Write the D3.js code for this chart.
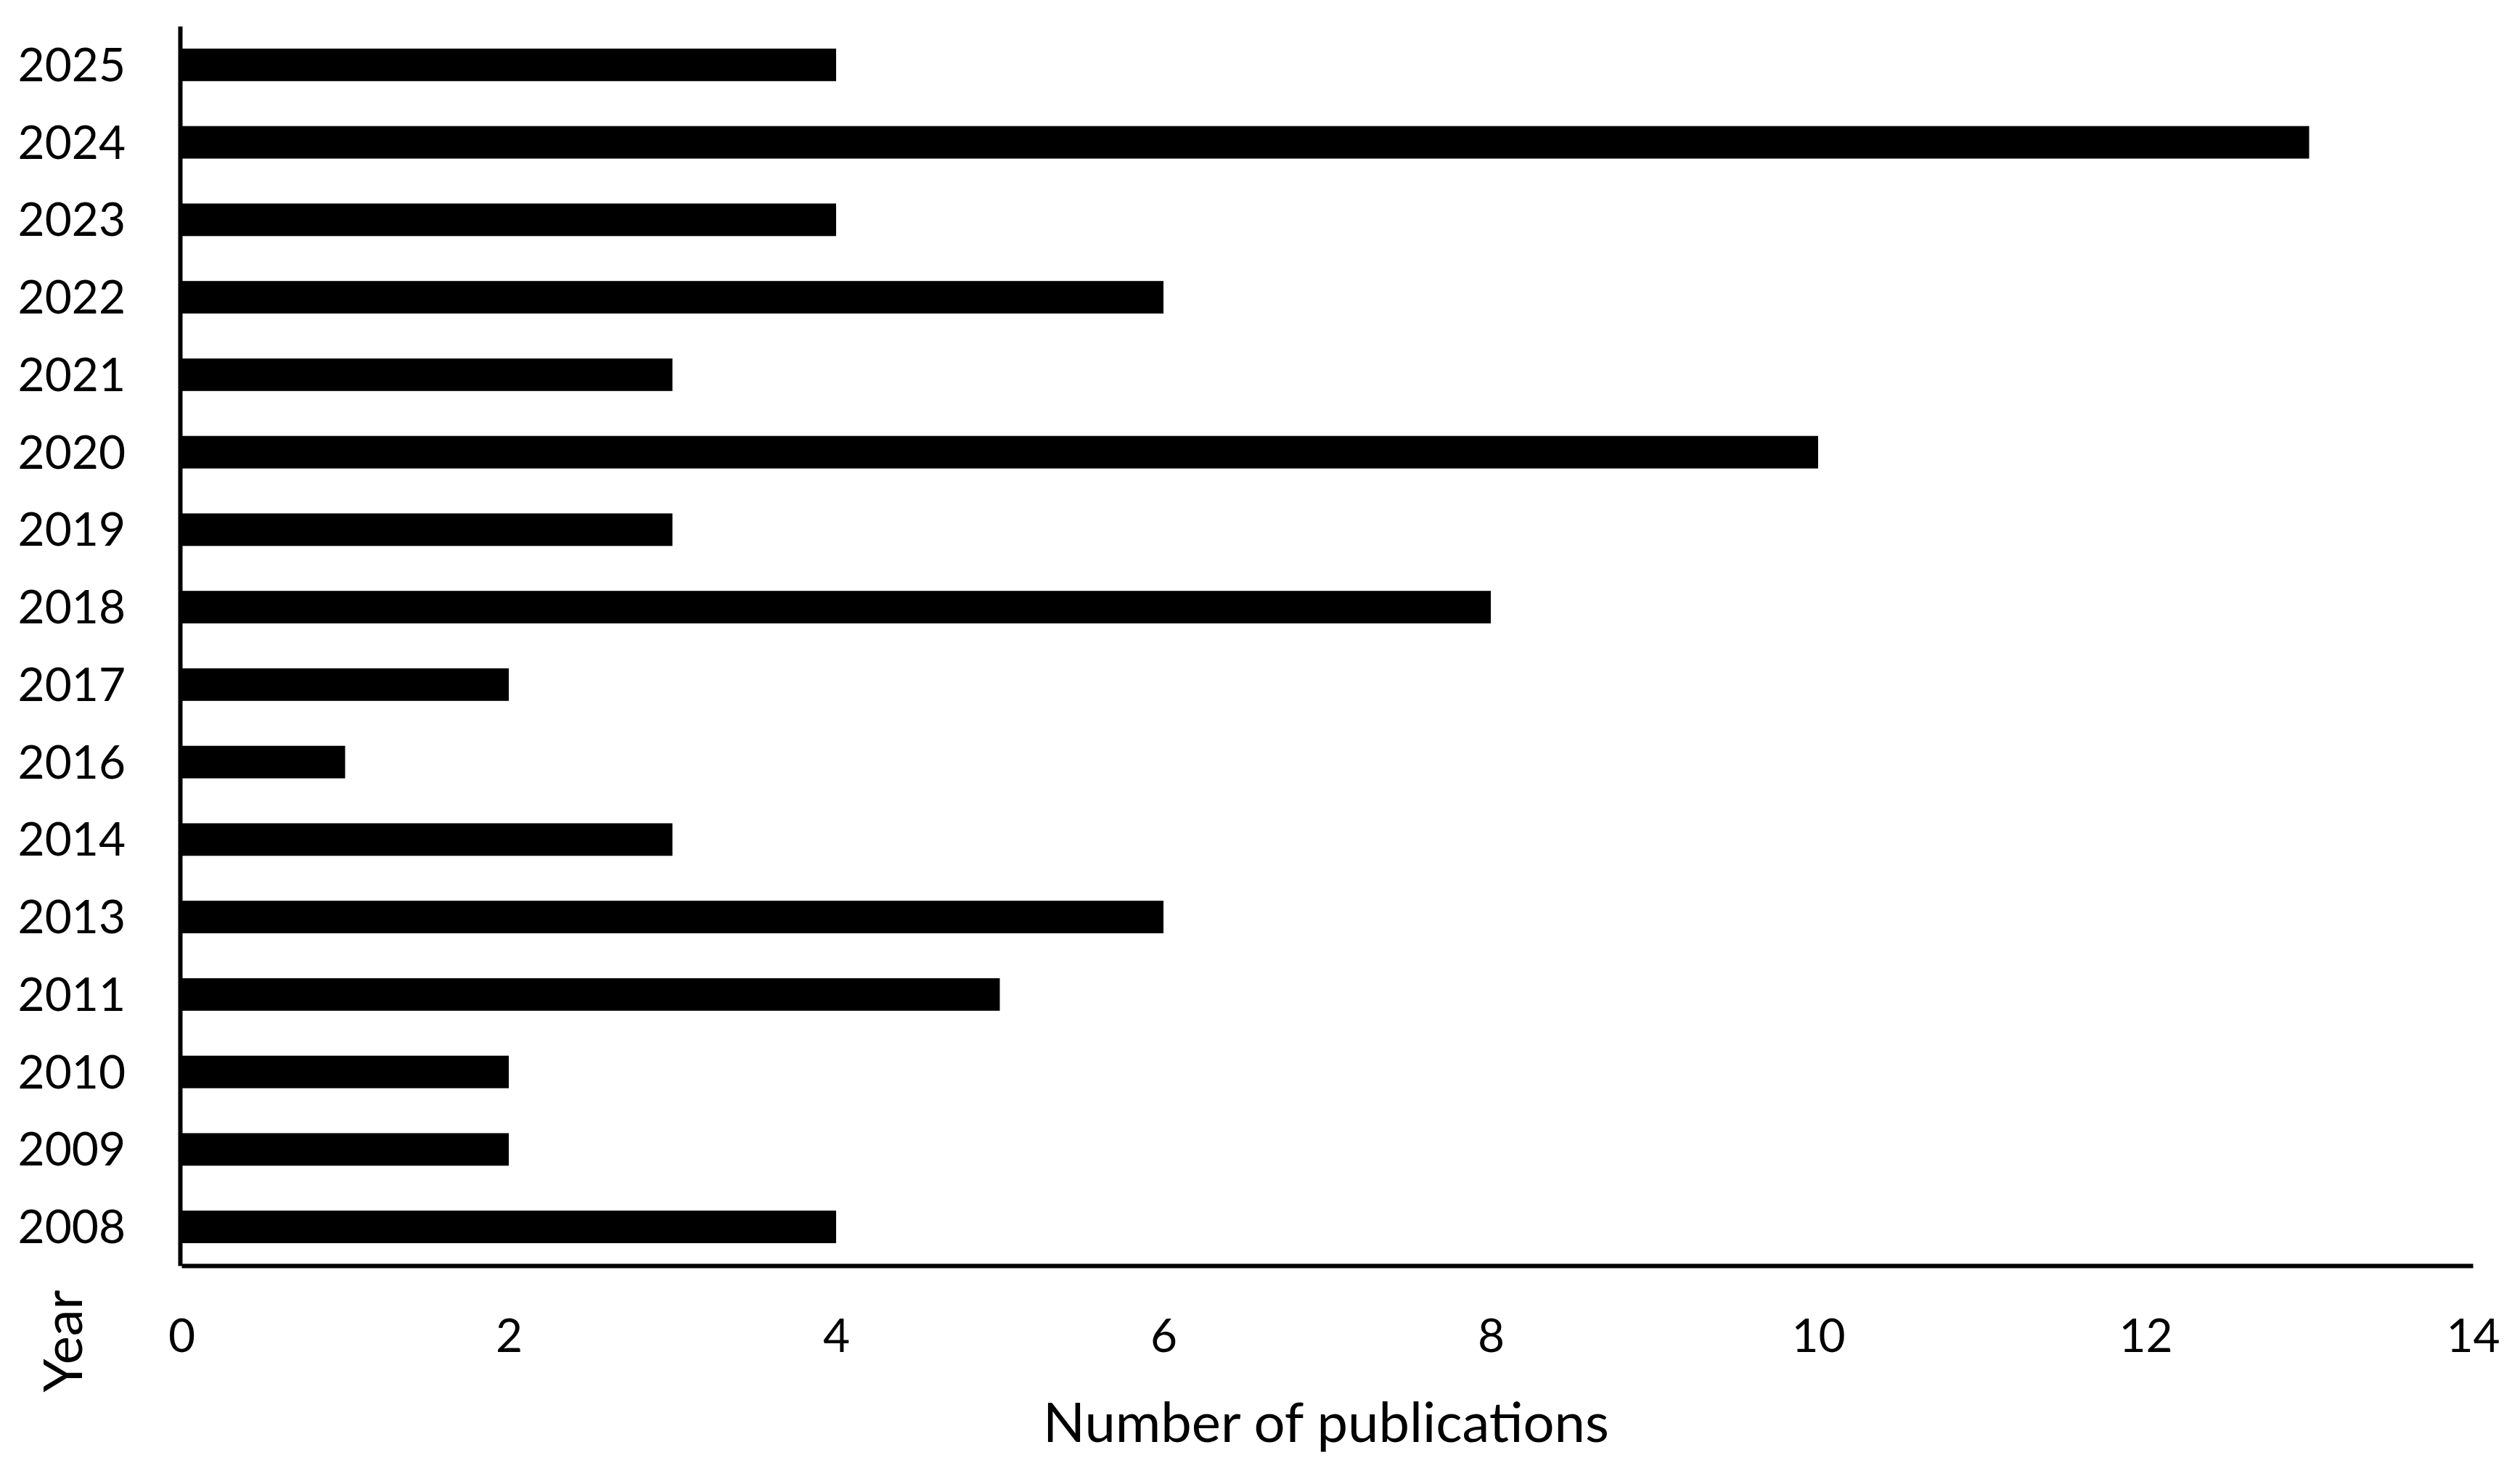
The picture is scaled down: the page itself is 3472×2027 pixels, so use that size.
<!DOCTYPE html>
<html>
<head>
<meta charset="utf-8">
<script src="https://cdn.jsdelivr.net/npm/d3@7"></script>
<style>
  html, body { margin: 0; padding: 0; background: #fff; }
  svg { display: block; }
</style>
</head>
<body>
<div id="chart"></div>
<script>
// publications per year
const years = ["2008", "2009", "2010", "2011", "2013", "2014", "2016", "2017",
  "2018", "2019", "2020", "2021", "2022", "2023", "2024", "2025"];
const counts = [4, 2, 2, 5, 6, 3, 1, 2, 8, 3, 10, 3, 6, 4, 13, 4];
const xTicks = [0, 2, 4, 6, 8, 10, 12, 14];

const width = 3472;
const height = 2027;
const font = "Lato, 'Open Sans', sans-serif";

const svg = d3.select("#chart")
  .append("svg")
  .attr("width", width)
  .attr("height", height);

const x = d3.scaleLinear().domain([0, 14]).range([250, 3407]);
const y = d3.scaleBand()
  .domain(years)
  .range([1744, 36])
  .paddingInner(0.58)
  .paddingOuter(0.29);

// bars
svg.append("g")
  .selectAll("rect")
  .data(years)
  .enter()
  .append("rect")
  .attr("x", x(0))
  .attr("y", (d) => y(d))
  .attr("width", (d, i) => x(counts[i]) - x(0))
  .attr("height", y.bandwidth())
  .attr("fill", "#000");

// x axis
const xAxis = svg.append("g")
  .attr("transform", "translate(0,1744)")
  .call(d3.axisBottom(x).tickValues(xTicks).tickSize(0).tickPadding(0));
xAxis.select(".domain").attr("stroke", "#000").attr("stroke-width", 6);
xAxis.selectAll("text")
  .attr("dy", null)
  .attr("y", 119)
  .attr("font-family", font)
  .attr("font-size", 64)
  .attr("fill", "#000");

// y axis
const yAxis = svg.append("g")
  .attr("transform", "translate(248,0)")
  .call(d3.axisLeft(y).tickSize(0).tickPadding(0));
yAxis.select(".domain").attr("stroke", "#000").attr("stroke-width", 6);
yAxis.selectAll("text")
  .attr("x", -75)
  .attr("dy", "0.35em")
  .attr("font-family", font)
  .attr("font-size", 64)
  .attr("fill", "#000");

// axis titles
svg.append("text")
  .attr("x", 1827)
  .attr("y", 1987)
  .attr("text-anchor", "middle")
  .attr("font-family", font)
  .attr("font-size", 76)
  .attr("fill", "#000")
  .text("Number of publications");

svg.append("text")
  .attr("transform", "translate(113,1848) rotate(-90)")
  .attr("text-anchor", "middle")
  .attr("font-family", font)
  .attr("font-size", 74)
  .attr("fill", "#000")
  .text("Year");
</script>
</body>
</html>
